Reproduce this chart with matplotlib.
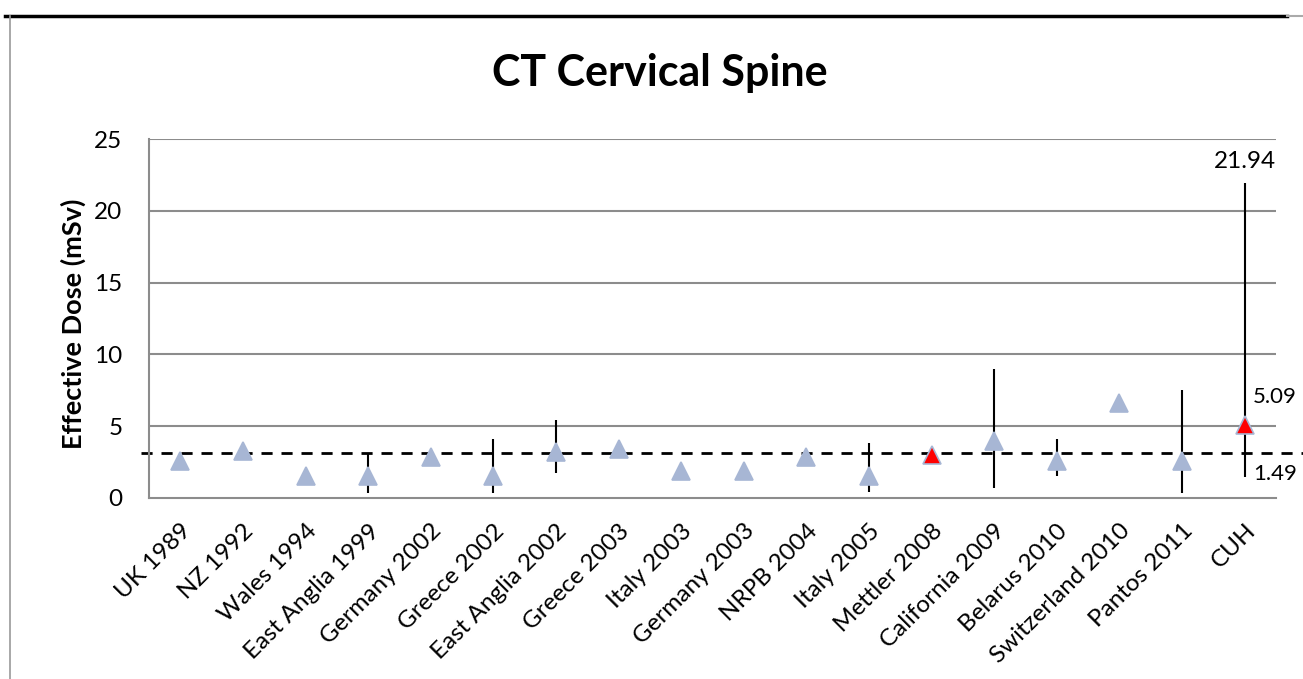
import matplotlib
matplotlib.use("Agg")
import matplotlib.pyplot as plt
import numpy as np
from matplotlib.lines import Line2D

plt.rcParams['font.family'] = ['Lato', 'DejaVu Sans']

categories = ["UK 1989", "NZ 1992", "Wales 1994", "East Anglia 1999", "Germany 2002",
              "Greece 2002", "East Anglia 2002", "Greece 2003", "Italy 2003", "Germany 2003",
              "NRPB 2004", "Italy 2005", "Mettler 2008", "California 2009", "Belarus 2010",
              "Switzerland 2010", "Pantos 2011", "CUH"]
dose = [2.6, 3.3, 1.5, 1.5, 2.85, 1.55, 3.2, 3.4, 1.9, 1.9,
        2.85, 1.5, 3.0, 4.0, 2.6, 6.6, 2.6, 5.09]
err_low = [np.nan, np.nan, np.nan, 0.35, np.nan, 0.35, 1.75, np.nan, np.nan, np.nan,
           np.nan, 0.4, np.nan, 0.72, 1.5, np.nan, 0.33, 1.49]
err_high = [np.nan, np.nan, np.nan, 3.1, np.nan, 4.1, 5.4, np.nan, np.nan, np.nan,
            np.nan, 3.85, np.nan, 9.0, 4.1, np.nan, 7.5, 21.94]
highlight = ["Mettler 2008", "CUH"]
reference_line = 3.1
yticks = [0, 5, 10, 15, 20, 25]

fig = plt.figure(figsize=(13.03, 6.79), dpi=100)
ax = fig.add_axes([149/1303, 1-498/679, (1276-149)/1303, (498-139)/679])

x = np.arange(len(categories))
ax.set_xlim(-0.5, len(categories)-0.5)
ax.set_ylim(0, 25)

for yv in yticks[1:]:
    ax.axhline(yv, color='#8c8c8c', lw=1.5, zorder=1)

# error bars
lo = np.array(err_low, dtype=float)
hi = np.array(err_high, dtype=float)
m = ~np.isnan(lo)
ax.vlines(x[m], lo[m], hi[m], color='black', lw=1.5, zorder=3)

# reference dashed line (extends slightly past plot area)
ax.plot([-0.62, len(categories)-0.5+0.45], [reference_line, reference_line],
        color='black', lw=2, dashes=(4, 3.2), zorder=2, clip_on=False)

colors = ['#ff0000' if c in highlight else '#a7b6d4' for c in categories]
for xi, yi, c in zip(x, dose, colors):
    ax.plot(xi, yi, marker='^', ms=13.5, color=c, markeredgecolor='#a7b6d4',
            markeredgewidth=1.2, zorder=4, linestyle='none')

# labels for CUH
ci = categories.index("CUH")
ax.annotate(f"{err_high[ci]:.2f}", (ci, err_high[ci]), xytext=(0, 8), textcoords='offset points',
            ha='center', va='bottom', fontsize=17.5)
ax.annotate(f"{dose[ci]:.2f}", (ci, dose[ci]), xytext=(6, 20), textcoords='offset points',
            ha='left', va='center', fontsize=16)
ax.annotate(f"{err_low[ci]:.2f}", (ci, err_low[ci]), xytext=(6, 2), textcoords='offset points',
            ha='left', va='center', fontsize=16)

ax.set_xticks(x)
ax.set_xticklabels(categories, rotation=45, ha='right', va='top', rotation_mode='anchor', fontsize=17.5)
ax.set_yticks(yticks)
ax.set_yticklabels([str(v) for v in yticks], fontsize=17.5)
ax.tick_params(axis='x', length=0, pad=16)
ax.tick_params(axis='y', length=0, pad=19)
for s in ['top', 'right']:
    ax.spines[s].set_visible(False)
for s in ['left', 'bottom']:
    ax.spines[s].set_color('#8c8c8c')
    ax.spines[s].set_linewidth(1.5)

ax.set_ylabel("Effective Dose (mSv)", fontsize=19.5, fontweight='bold', va='center')
ax.yaxis.set_label_coords((73-149)/1127, 0.485)
fig.text(660/1303, 1-73/679, "CT Cervical Spine", ha='center', va='center',
         fontsize=31, fontweight='bold')

# outer frame
fig.add_artist(Line2D([5/1303, 1287/1303], [1-16/679, 1-16/679], color='black', lw=2.5,
                      transform=fig.transFigure))
fig.add_artist(Line2D([1287/1303, 1303/1303], [1-16/679, 1-16/679], color='#aaaaaa', lw=1.5,
                      transform=fig.transFigure))
fig.add_artist(Line2D([10/1303, 10/1303], [0, 1-16/679], color='#9a9a9a', lw=1.2,
                      transform=fig.transFigure))

fig.savefig("out.png", dpi=100)
